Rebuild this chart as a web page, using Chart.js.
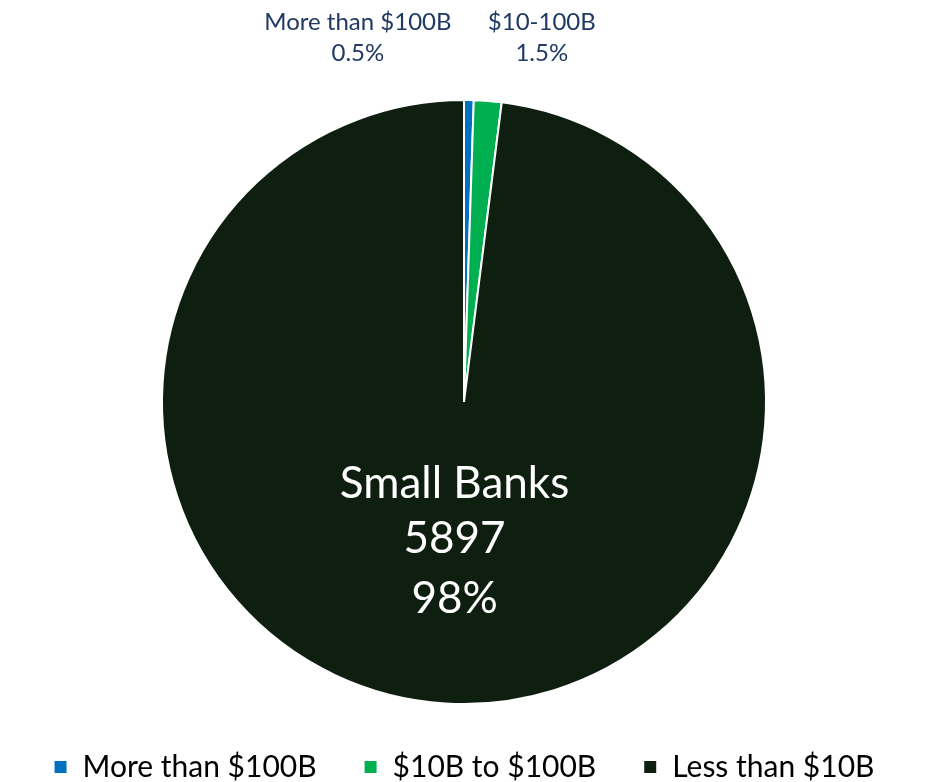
<!DOCTYPE html>
<html>
<head>
<meta charset="utf-8">
<script src="https://cdn.jsdelivr.net/npm/chart.js@4"></script>
<style>
  html, body { margin: 0; padding: 0; background: #ffffff; }
  #wrap { width: 928px; height: 782px; }
</style>
</head>
<body>
<div id="wrap"><canvas id="myChart"></canvas></div>
<script>
"use strict"

// bank counts by asset size
let categories = ["More than $100B", "$10B to $100B", "Less than $10B"];
let bankCounts = [31, 89, 5897];
let sliceLabels = [
  ["More than $100B", "0.5%"],
  ["$10-100B", "1.5%"],
  ["Small Banks", "5897", "98%"]
];
let sliceColors = ["#0070C0", "#00B050", "#0E1F10"];

// draws the data labels next to / inside each slice
const sliceLabelPlugin = {
  id: "sliceLabels",
  afterDatasetsDraw(chart) {
    const ctx = chart.ctx;
    const arcs = chart.getDatasetMeta(0).data;
    ctx.save();
    ctx.textAlign = "center";
    ctx.textBaseline = "middle";

    // the two small slices get labels above the pie
    let offsets = [-111, 54];
    for (let i = 0; i < 2; i++) {
      let arc = arcs[i];
      let mid = (arc.startAngle + arc.endAngle) / 2;
      let x = arc.x + arc.outerRadius * Math.cos(mid) + offsets[i];
      let top = arc.y - arc.outerRadius - 78;
      ctx.fillStyle = "#1F3864";
      ctx.font = "24px Lato";
      ctx.fillText(sliceLabels[i][0], x, top);
      ctx.fillText(sliceLabels[i][1], x, top + 31);
    }

    // the big slice gets its label inside
    let big = arcs[2];
    let p = big.getCenterPoint();
    ctx.fillStyle = "#ffffff";
    ctx.font = "44px Lato";
    ctx.fillText(sliceLabels[2][0], p.x, p.y - 69);
    ctx.fillText(sliceLabels[2][1], p.x, p.y - 14);
    ctx.fillText(sliceLabels[2][2], p.x, p.y + 46);
    ctx.restore();
  }
};

const ctx = document.getElementById("myChart").getContext("2d");
const myChart = new Chart(ctx, {
  type: "pie",
  data: {
    labels: categories,
    datasets: [
      {
        data: bankCounts,
        backgroundColor: sliceColors,
        borderColor: "#ffffff",
        borderWidth: 2,
      },
    ],
  },
  options: {
    responsive: true,
    maintainAspectRatio: false,
    animation: false,
    layout: {
      padding: { top: 99, bottom: 0, left: 0, right: 0 },
    },
    plugins: {
      tooltip: { enabled: false },
      legend: {
        position: "bottom",
        maxHeight: 77,
        labels: {
          color: "#000000",
          font: { family: "Lato", size: 30 },
          boxWidth: 14,
          boxHeight: 14,
          padding: 47,
        },
      },
    },
  },
  plugins: [sliceLabelPlugin],
});
</script>
</body>
</html>
